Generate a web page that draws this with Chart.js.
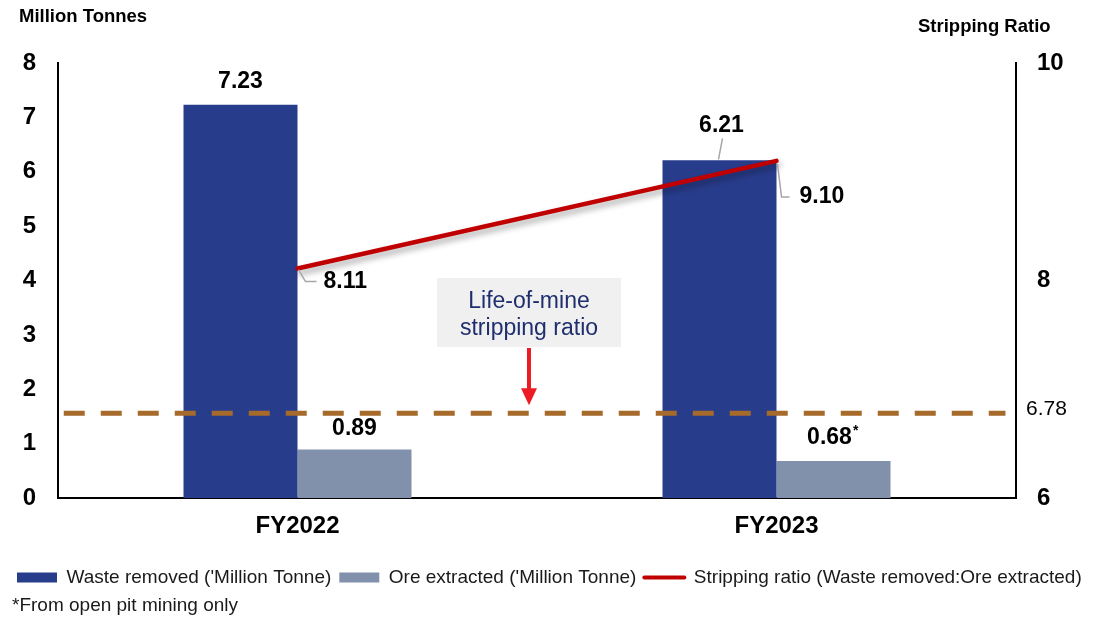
<!DOCTYPE html>
<html>
<head>
<meta charset="utf-8">
<script src="https://cdn.jsdelivr.net/npm/chart.js@4/dist/chart.umd.min.js"></script>
<style>
  html, body { margin: 0; padding: 0; background: #fff; }
  #wrap { width: 1097px; height: 617px; }
</style>
</head>
<body>
<div id="wrap"><canvas id="chart"></canvas></div>
<script>
const years = ['FY2022', 'FY2023'];
const wasteRemoved = [7.23, 6.21];
const oreExtracted = [0.89, 0.68];
const strippingRatio = [8.11, 9.10];
const lifeOfMineRatio = 6.78;
// 기준선이 그려지는 x 구간 (연도 인덱스 단위)
const lomSpan = [-0.488, 1.478];

const FONT = "'Liberation Sans', Arial, sans-serif";
const WASTE = '#283C8C';
const ORE = '#8191AC';
const RED = '#C00000';
const BROWN = '#A66A2B';
const LEADER = '#A6A6A6';

// x축을 linear 하나로 통일해서 막대, 꺾은선, 기준선을 모두 같은 축에 올림
const toPoints = arr => arr.map((v, i) => ({ x: i, y: v }));

// 값 라벨, 리더선, 주석 박스
const overlayPlugin = {
  id: 'overlay',
  beforeDatasetDraw(chart, args) {
    if (args.index === 2) {
      const ctx = chart.ctx;
      ctx.save();
      ctx.shadowColor = 'rgba(0,0,0,0.35)';
      ctx.shadowBlur = 6;
      ctx.shadowOffsetX = 2;
      ctx.shadowOffsetY = 4;
    }
  },
  afterDatasetDraw(chart, args) {
    if (args.index === 2) chart.ctx.restore();
  },
  afterDraw(chart) {
    const ctx = chart.ctx;
    const waste = chart.getDatasetMeta(0).data;
    const ore = chart.getDatasetMeta(1).data;
    const ratio = chart.getDatasetMeta(2).data;
    const y2 = chart.scales.y2;

    ctx.save();
    ctx.fillStyle = '#000';
    ctx.textBaseline = 'middle';

    // 축 제목
    ctx.font = 'bold 18.5px ' + FONT;
    ctx.textAlign = 'left';
    ctx.fillText('Million Tonnes', 19, 17);
    ctx.fillText('Stripping Ratio', 918, 27);

    // 리더선
    ctx.strokeStyle = LEADER;
    ctx.lineWidth = 1.5;
    ctx.beginPath();
    ctx.moveTo(waste[1].x - 1, waste[1].y - 1);
    ctx.lineTo(waste[1].x + 3, waste[1].y - 22);
    ctx.moveTo(ratio[0].x + 1, ratio[0].y + 1);
    ctx.lineTo(ratio[0].x + 8, ratio[0].y + 13);
    ctx.lineTo(ratio[0].x + 19, ratio[0].y + 13);
    ctx.moveTo(ratio[1].x + 1, ratio[1].y + 3);
    ctx.lineTo(ratio[1].x + 5, ratio[1].y + 36);
    ctx.lineTo(ratio[1].x + 13, ratio[1].y + 36);
    ctx.stroke();

    // 값 라벨
    ctx.font = 'bold 23px ' + FONT;
    ctx.textAlign = 'center';
    ctx.fillText(wasteRemoved[0].toFixed(2), waste[0].x, waste[0].y - 23);
    ctx.fillText(wasteRemoved[1].toFixed(2), waste[1].x + 2, waste[1].y - 35);
    ctx.fillText(oreExtracted[0].toFixed(2), ore[0].x, ore[0].y - 21);
    ctx.fillText(oreExtracted[1].toFixed(2), ore[1].x - 4, ore[1].y - 23);
    const w068 = ctx.measureText(oreExtracted[1].toFixed(2)).width;
    ctx.textAlign = 'left';
    ctx.fillText(strippingRatio[0].toFixed(2), ratio[0].x + 26, ratio[0].y + 13);
    ctx.fillText(strippingRatio[1].toFixed(2), ratio[1].x + 23, ratio[1].y + 36);
    ctx.font = 'bold 14px ' + FONT;
    ctx.fillText('*', ore[1].x - 4 + w068 / 2 + 1, ore[1].y - 30);

    // 기준선 라벨
    const lomY = y2.getPixelForValue(lifeOfMineRatio);
    ctx.font = '21px ' + FONT;
    ctx.fillText(lifeOfMineRatio.toFixed(2), 1026, lomY - 4);

    // 주석 박스 + 화살표
    ctx.fillStyle = '#F0F0F0';
    ctx.fillRect(437, 278, 184, 69);
    ctx.fillStyle = '#1F2E6E';
    ctx.font = '23px ' + FONT;
    ctx.textAlign = 'center';
    ctx.fillText('Life-of-mine', 529, 302);
    ctx.fillText('stripping ratio', 529, 329);

    const tipY = lomY - 8;
    ctx.strokeStyle = '#ED1C24';
    ctx.fillStyle = '#ED1C24';
    ctx.lineWidth = 4;
    ctx.beginPath();
    ctx.moveTo(529, 348);
    ctx.lineTo(529, tipY - 14);
    ctx.stroke();
    ctx.beginPath();
    ctx.moveTo(521, tipY - 17);
    ctx.lineTo(537, tipY - 17);
    ctx.lineTo(529, tipY);
    ctx.closePath();
    ctx.fill();

    // 각주
    ctx.fillStyle = '#1a1a1a';
    ctx.font = '19px ' + FONT;
    ctx.textAlign = 'left';
    ctx.fillText('*From open pit mining only', 12, 606);
    ctx.restore();
  }
};

const tickFont = { family: FONT, size: 24, weight: 'bold' };

new Chart(document.getElementById('chart'), {
  type: 'bar',
  data: {
    datasets: [
      {
        type: 'bar',
        label: "Waste removed ('Million Tonne)",
        data: toPoints(wasteRemoved),
        backgroundColor: WASTE,
        yAxisID: 'y',
        order: 2,
        categoryPercentage: 0.476,
        barPercentage: 1
      },
      {
        type: 'bar',
        label: "Ore extracted ('Million Tonne)",
        data: toPoints(oreExtracted),
        backgroundColor: ORE,
        yAxisID: 'y',
        order: 2,
        categoryPercentage: 0.476,
        barPercentage: 1
      },
      {
        type: 'line',
        label: 'Stripping ratio (Waste removed:Ore extracted)',
        data: toPoints(strippingRatio),
        borderColor: RED,
        backgroundColor: RED,
        borderWidth: 4.5,
        borderCapStyle: 'round',
        pointRadius: 0,
        yAxisID: 'y2',
        order: 0
      },
      {
        type: 'line',
        label: '',
        data: lomSpan.map(x => ({ x, y: lifeOfMineRatio })),
        borderColor: BROWN,
        borderWidth: 5,
        borderDash: [21, 16],
        pointRadius: 0,
        yAxisID: 'y2',
        order: 1
      }
    ]
  },
  options: {
    responsive: true,
    maintainAspectRatio: false,
    animation: false,
    layout: { padding: { top: 63, left: 9, right: 0, bottom: 20 } },
    scales: {
      x: {
        type: 'linear',
        min: -0.5,
        max: years.length - 0.5,
        offset: false,
        grid: { display: false, drawTicks: false },
        border: { color: '#000', width: 2 },
        afterBuildTicks: s => { s.ticks = years.map((_, i) => ({ value: i })); },
        ticks: {
          color: '#000',
          font: tickFont,
          padding: 14,
          autoSkip: false,
          maxRotation: 0,
          callback: v => years[v]
        },
        afterFit: s => { s.height = 62; }
      },
      y: {
        position: 'left',
        min: 0, max: 8,
        grid: { display: false, drawTicks: false },
        border: { color: '#000', width: 2 },
        ticks: { stepSize: 1, color: '#000', font: tickFont, padding: 22 },
        afterFit: s => { s.width = 49; }
      },
      y2: {
        position: 'right',
        min: 6, max: 10,
        grid: { display: false, drawTicks: false },
        border: { color: '#000', width: 2 },
        ticks: { stepSize: 2, color: '#000', font: tickFont, padding: 21 },
        afterFit: s => { s.width = 81; }
      }
    },
    plugins: {
      tooltip: { enabled: false },
      legend: {
        position: 'bottom',
        align: 'start',
        labels: {
          color: '#1a1a1a',
          font: { family: FONT, size: 19 },
          padding: 8,
          boxHeight: 10,
          usePointStyle: true,
          pointStyleWidth: 40,
          generateLabels: chart => chart.data.datasets
            .map((ds, i) => ({
              text: ds.label,
              datasetIndex: i,
              fillStyle: ds.type === 'bar' ? ds.backgroundColor : 'rgba(0,0,0,0)',
              strokeStyle: ds.type === 'bar' ? ds.backgroundColor : ds.borderColor,
              lineWidth: ds.type === 'bar' ? 0 : 4,
              lineCap: 'round',
              pointStyle: ds.type === 'bar' ? 'rect' : 'line',
              fontColor: '#1a1a1a',
              hidden: false
            }))
            .filter(item => item.text)
        }
      }
    }
  },
  plugins: [overlayPlugin]
});
</script>
</body>
</html>
